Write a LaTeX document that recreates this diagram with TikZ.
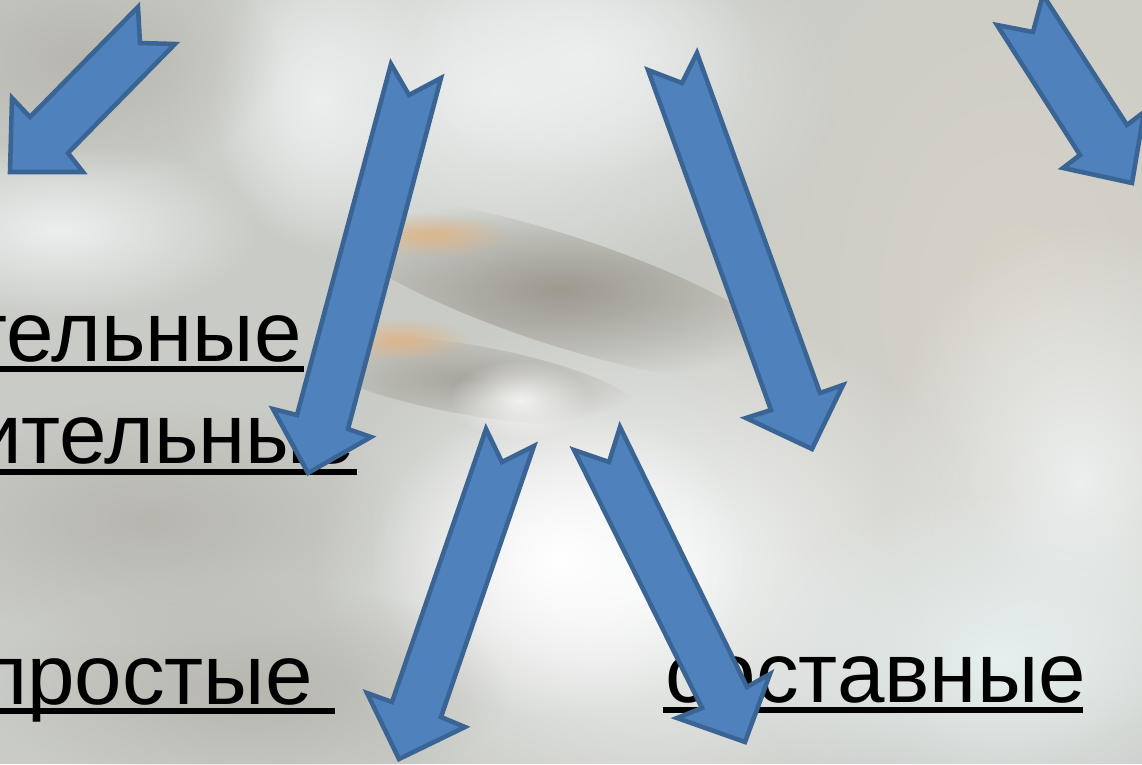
\documentclass[tikz,border=0pt]{standalone}
\usepackage{fontspec}
\setmainfont{Liberation Sans}
\usetikzlibrary{fadings}
\tikzfading[name=softblob, inner color=transparent!0, outer color=transparent!100]
\definecolor{arrfill}{HTML}{4F81BD}
\definecolor{arrline}{HTML}{3A6493}
\definecolor{bgbase}{HTML}{C9CBC6}
\definecolor{bgbeige}{HTML}{D6D2C8}
\definecolor{bglight}{HTML}{ECEFEE}
\definecolor{bgdark}{HTML}{8E897E}
\definecolor{bgorange}{HTML}{E2B27E}
\definecolor{bggray}{HTML}{B7B6AF}
\definecolor{bgwhite}{HTML}{F6F8F8}
\definecolor{bgcyan}{HTML}{E6F0F0}
\begin{document}
\begin{tikzpicture}[x=0.75pt,y=-0.75pt,
  blockarrow/.style={fill=arrfill,draw=arrline,line width=3.4pt,line join=miter},
  wordlabel/.style={inner sep=0pt,font=\fontsize{64}{64}\selectfont,text=black},
  uline/.style={line width=5.2pt,draw=black},
  blob/.style={path fading=softblob}]
\useasboundingbox (0,0) rectangle (1142,764);
\clip (0,0) rectangle (1142,764);
% background
\fill[bgbase] (0,0) rectangle (1142,764);
\fill[bgbeige,blob] (1020,300) ellipse [x radius=360, y radius=520];
\fill[bglight,blob] (1080,480) ellipse [x radius=200, y radius=260];
\fill[bglight,blob] (500,90) ellipse [x radius=340, y radius=200];
\fill[bglight,blob] (580,60) ellipse [x radius=180, y radius=120];
\fill[bglight,blob] (320,100) ellipse [x radius=110, y radius=150];
\fill[bglight,blob] (60,230) ellipse [x radius=200, y radius=90];
\fill[bggray,blob] (150,520) ellipse [x radius=260, y radius=120];
\fill[bggray,blob] (80,60) ellipse [x radius=200, y radius=120];
\fill[bgwhite,blob] (650,570) ellipse [x radius=340, y radius=270];
\fill[white,blob] (560,560) ellipse [x radius=190, y radius=160];
\fill[bgcyan,blob] (1000,660) ellipse [x radius=260, y radius=170];
\fill[bggray,blob] (250,690) ellipse [x radius=260, y radius=110];
\fill[bgdark,blob,opacity=0.75,rotate around={-18:(560,290)}] (560,290) ellipse [x radius=250, y radius=55];
\fill[bgdark,blob,opacity=0.6,rotate around={-10:(470,380)}] (470,380) ellipse [x radius=170, y radius=35];
\fill[bgorange,blob,opacity=0.8] (430,235) ellipse [x radius=80, y radius=22];
\fill[bgorange,blob,opacity=0.8] (400,340) ellipse [x radius=70, y radius=22];
\fill[white,blob,opacity=0.8] (520,400) ellipse [x radius=70, y radius=40];
% words
\node[wordlabel,anchor=base east] (w1) at (302,361) {тельные};
\node[wordlabel,anchor=base east] (w2) at (355,463) {ительные};
\node[wordlabel,anchor=base east] (w3) at (313,704) {простые};
\node[wordlabel,anchor=base west] (w4) at (665,702) {составные};
\draw[uline] (0,369) -- (304,369);
\draw[uline] (0,472) -- (357,472);
\draw[uline] (0,711) -- (335,711);
\draw[uline] (663,710) -- (1083,710);
% arrows
\draw[blockarrow] (10,172) -- (12,98) -- (30,117) -- (138,7) -- (140,43) -- (175,44) -- (68,153) -- (83,172) -- cycle;
\draw[blockarrow] (391,64) -- (409,95) -- (441,78) -- (348,429) -- (371,437) -- (308,473) -- (273,409) -- (297,415) -- cycle;
\draw[blockarrow] (648,70) -- (682,83) -- (697,53) -- (820,393) -- (843,385) -- (812,449) -- (746,418) -- (771,410) -- cycle;
\draw[blockarrow] (997,25) -- (1033,32) -- (1043,-5) -- (1127,125) -- (1144,112) -- (1132,183) -- (1063,168) -- (1080,155) -- cycle;
\draw[blockarrow] (486,429) -- (502,462) -- (534,446) -- (441,717) -- (465,727) -- (399,759) -- (367,693) -- (392,702) -- cycle;
\draw[blockarrow] (574,450) -- (609,462) -- (620,427) -- (747,687) -- (770,674) -- (745,742) -- (677,718) -- (702,708) -- cycle;
\end{tikzpicture}
\end{document}
